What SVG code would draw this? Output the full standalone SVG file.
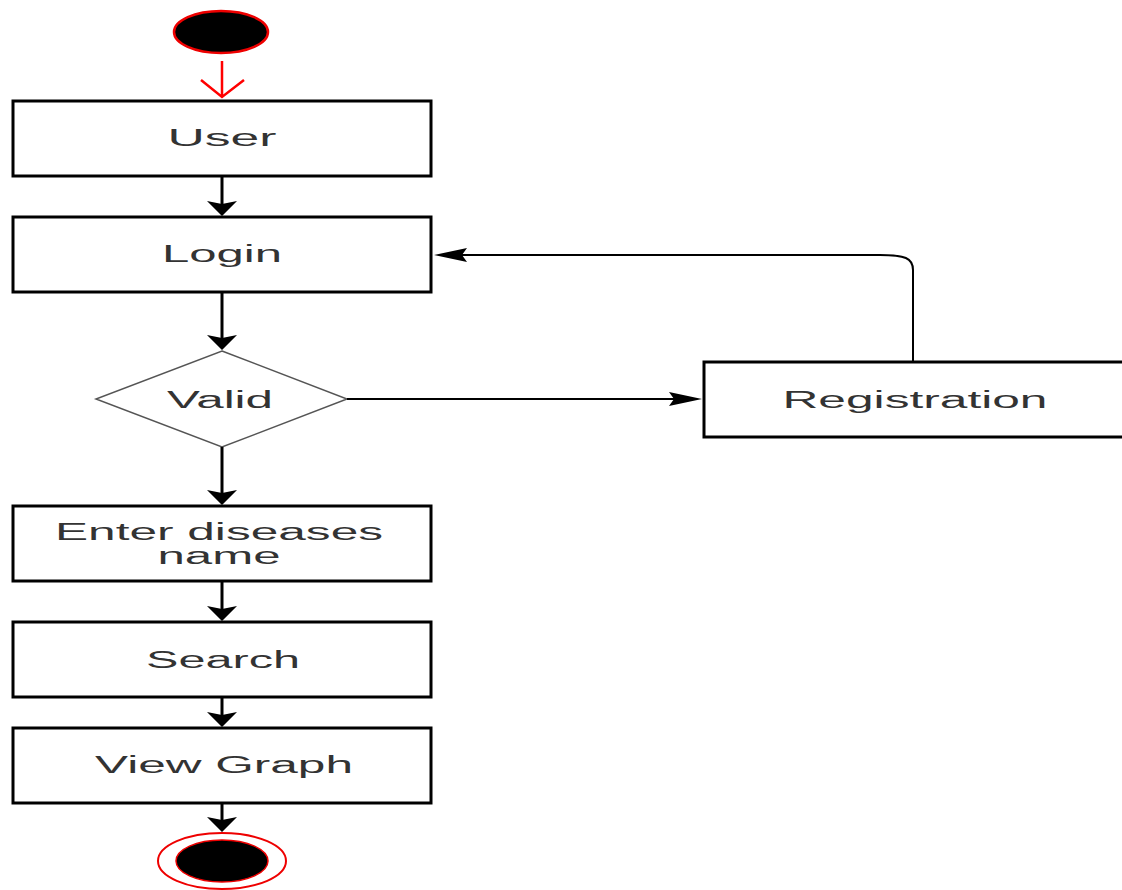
<svg xmlns="http://www.w3.org/2000/svg" width="1122" height="890" viewBox="0 0 1122 890">
<style>
.box{fill:#fff;stroke:#000;stroke-width:3}
.lbl{font-family:"Liberation Sans",Arial,sans-serif;font-size:23px;fill:#333;text-anchor:middle}
.ln{fill:none;stroke:#000;stroke-width:3}
.ln2{fill:none;stroke:#000;stroke-width:2}
.ah{fill:#000}
</style>
<rect width="1122" height="890" fill="#fff"/>
<g id="start">
<ellipse cx="221" cy="32" rx="47" ry="21" fill="#000" stroke="#e00" stroke-width="2.5"/>
</g>
<g id="user">
<rect class="box" x="13" y="101" width="418" height="75"/>
<text class="lbl" x="222" y="146" textLength="109" lengthAdjust="spacingAndGlyphs">User</text>
</g>
<g id="login">
<rect class="box" x="13" y="217" width="418" height="75"/>
<text class="lbl" x="222" y="262" textLength="120" lengthAdjust="spacingAndGlyphs">Login</text>
</g>
<g id="valid">
<polygon points="222,351 347,399 222,447 96,399" fill="#fff" stroke="#555" stroke-width="1.5"/>
<text class="lbl" x="220" y="408" textLength="106" lengthAdjust="spacingAndGlyphs">Valid</text>
</g>
<g id="registration">
<rect class="box" x="704" y="362" width="430" height="75"/>
<text class="lbl" x="915" y="408" textLength="265" lengthAdjust="spacingAndGlyphs">Registration</text>
</g>
<g id="enter">
<rect class="box" x="13" y="506" width="418" height="75"/>
<text class="lbl" x="219" y="540" textLength="328" lengthAdjust="spacingAndGlyphs">Enter diseases</text>
<text class="lbl" x="219" y="564" textLength="123" lengthAdjust="spacingAndGlyphs">name</text>
</g>
<g id="search">
<rect class="box" x="13" y="622" width="418" height="75"/>
<text class="lbl" x="223" y="668" textLength="154" lengthAdjust="spacingAndGlyphs">Search</text>
</g>
<g id="viewgraph">
<rect class="box" x="13" y="728" width="418" height="75"/>
<text class="lbl" x="224" y="773" textLength="258" lengthAdjust="spacingAndGlyphs">View Graph</text>
</g>
<g id="end">
<ellipse cx="222" cy="861" rx="64" ry="28" fill="#fff" stroke="#e00" stroke-width="2"/>
<ellipse cx="222" cy="861" rx="46" ry="21" fill="#000" stroke="#e00" stroke-width="1.5"/>
</g>
<g id="connectors">
<path d="M222,61 V97 M201,80 L222,97 L244,80" fill="none" stroke="#f00" stroke-width="2.5"/>
<path class="ln" d="M222,176 V210"/>
<polygon class="ah" points="222,216 207,201 222,204 237,201"/>
<path class="ln" d="M222,292 V344"/>
<polygon class="ah" points="222,350 207,335 222,338 237,335"/>
<path class="ln" d="M222,447 V499"/>
<polygon class="ah" points="222,505 207,490 222,493 237,490"/>
<path class="ln" d="M222,581 V615"/>
<polygon class="ah" points="222,621 207,606 222,609 237,606"/>
<path class="ln" d="M222,697 V721"/>
<polygon class="ah" points="222,727 207,712 222,715 237,712"/>
<path class="ln" d="M222,803 V826"/>
<polygon class="ah" points="222,832 207,817 222,820 237,817"/>
<path class="ln2" d="M347,399 H690"/>
<polygon class="ah" points="702,399 669,392 674,399 669,406"/>
<path class="ln2" d="M913,361 V270 C913,258 905,255 880,255 H446"/>
<polygon class="ah" points="434,255 467,248 462,255 467,262"/>
</g>
</svg>
